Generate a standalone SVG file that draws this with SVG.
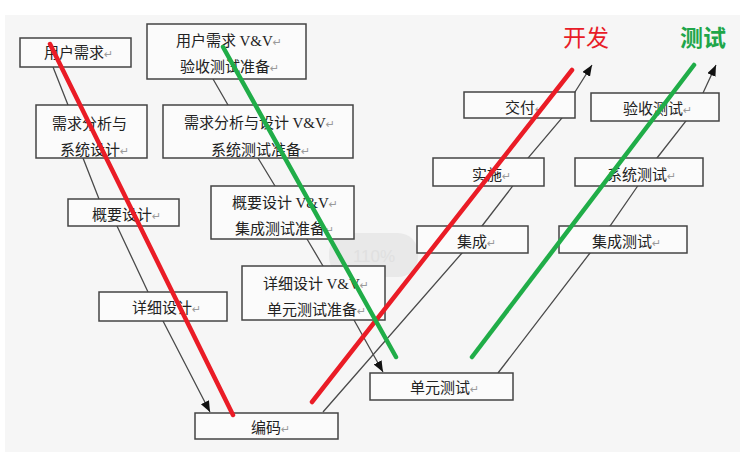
<svg xmlns="http://www.w3.org/2000/svg" width="740" height="457" viewBox="0 0 740 457">
<style>
.bg{fill:#f6f6f6}
.box{fill:#fbfbfb;stroke:#444;stroke-width:1.5}
.t{font-family:"Noto Sans CJK SC","Noto Sans CJK JP",sans-serif;font-size:15px;fill:#222}
.vv{font-family:"Liberation Serif",serif;font-size:15px}
.r{font-family:"DejaVu Sans",sans-serif;font-size:11px;fill:#9a9a9a}
.conn{fill:none;stroke:#4a4a4a;stroke-width:1.3}
.red{stroke:#ea1c26;stroke-width:4.5;stroke-linecap:round;fill:none}
.green{stroke:#20ad48;stroke-width:4.5;stroke-linecap:round;fill:none}
</style>
<defs>
<marker id="arr" markerUnits="userSpaceOnUse" markerWidth="12" markerHeight="10" refX="11" refY="4.5" orient="auto">
<path d="M0,0 L11,4.5 L0,9 z" fill="#111"/>
</marker>
</defs>
<rect x="0" y="0" width="740" height="457" fill="#ffffff"/>
<rect class="bg" x="5" y="15" width="735" height="437"/>
<rect x="329" y="233" width="89" height="44" rx="20" fill="#e9e9e9"/>
<text x="374" y="262" text-anchor="middle" font-family="Liberation Sans, sans-serif" font-size="17" fill="#e0e0e0">110%</text>

<g id="connectors">
<polyline class="conn" points="53,67 68,105 83,158 99,199 117,226 148,292 163,321 210,412" marker-end="url(#arr)"/>
<polyline class="conn" points="213,79 228,105 258,158 275,186 307,239 323,266 354,320 383,372" marker-end="url(#arr)"/>
<polyline class="conn" points="323,412 462,253 482,226 512,187 528,158 562,118 575,92 592,65" marker-end="url(#arr)"/>
<polyline class="conn" points="498,373 590,253 610,226 637,187 657,158 686,121 703,93 716,65" marker-end="url(#arr)"/>
</g>

<g id="n-yonghu">
<rect class="box" x="20" y="38" width="111" height="29"/>
<text class="t" x="44" y="58">用户需求<tspan class="r">↵</tspan></text>
</g>
<g id="n-xuqiu">
<rect class="box" x="36" y="105" width="111" height="53"/>
<text class="t" x="52" y="129">需求分析与</text>
<text class="t" x="60" y="155">系统设计<tspan class="r">↵</tspan></text>
</g>
<g id="n-gaiyao">
<rect class="box" x="68" y="199" width="111" height="27"/>
<text class="t" x="92" y="220">概要设计<tspan class="r">↵</tspan></text>
</g>
<g id="n-xiangxi">
<rect class="box" x="99" y="292" width="128" height="29"/>
<text class="t" x="132" y="313">详细设计<tspan class="r">↵</tspan></text>
</g>
<g id="n-bianma">
<rect class="box" x="195" y="413" width="143" height="26"/>
<text class="t" x="251" y="433">编码<tspan class="r">↵</tspan></text>
</g>

<g id="n-yonghu-vv">
<rect class="box" x="147" y="24" width="159" height="55"/>
<text class="t" x="176" y="46">用户需求 <tspan class="vv">V&amp;V</tspan><tspan class="r">↵</tspan></text>
<text class="t" x="180" y="72">验收测试准备<tspan class="r">↵</tspan></text>
</g>
<g id="n-xuqiu-vv">
<rect class="box" x="163" y="105" width="190" height="53"/>
<text class="t" x="184" y="128">需求分析与设计 <tspan class="vv">V&amp;V</tspan><tspan class="r">↵</tspan></text>
<text class="t" x="211" y="155">系统测试准备<tspan class="r">↵</tspan></text>
</g>
<g id="n-gaiyao-vv">
<rect class="box" x="211" y="186" width="143" height="53"/>
<text class="t" x="232" y="208">概要设计 <tspan class="vv">V&amp;V</tspan><tspan class="r">↵</tspan></text>
<text class="t" x="235" y="234">集成测试准备<tspan class="r">↵</tspan></text>
</g>
<g id="n-xiangxi-vv">
<rect class="box" x="242" y="266" width="143" height="54"/>
<text class="t" x="263" y="289">详细设计 <tspan class="vv">V&amp;V</tspan><tspan class="r">↵</tspan></text>
<text class="t" x="267" y="315">单元测试准备<tspan class="r">↵</tspan></text>
</g>
<g id="n-danyuan">
<rect class="box" x="370" y="373" width="143" height="27"/>
<text class="t" x="410" y="393">单元测试<tspan class="r">↵</tspan></text>
</g>

<g id="n-jiaofu">
<rect class="box" x="464" y="92" width="111" height="26"/>
<text class="t" x="505" y="113">交付<tspan class="r">↵</tspan></text>
</g>
<g id="n-shishi">
<rect class="box" x="433" y="158" width="111" height="28"/>
<text class="t" x="472" y="180">实施<tspan class="r">↵</tspan></text>
</g>
<g id="n-jicheng">
<rect class="box" x="417" y="226" width="111" height="27"/>
<text class="t" x="457" y="247">集成<tspan class="r">↵</tspan></text>
</g>
<g id="n-yanshou">
<rect class="box" x="591" y="93" width="128" height="28"/>
<text class="t" x="623" y="114">验收测试<tspan class="r">↵</tspan></text>
</g>
<g id="n-xitong">
<rect class="box" x="575" y="158" width="128" height="28"/>
<text class="t" x="607" y="180">系统测试<tspan class="r">↵</tspan></text>
</g>
<g id="n-jicheng-test">
<rect class="box" x="559" y="226" width="128" height="27"/>
<text class="t" x="592" y="247">集成测试<tspan class="r">↵</tspan></text>
</g>

<g id="annotations">
<line class="red" x1="50" y1="44" x2="233" y2="415"/>
<line class="red" x1="312" y1="402" x2="572" y2="70"/>
<line class="green" x1="223" y1="47" x2="396" y2="357"/>
<line class="green" x1="472" y1="357" x2="694" y2="65"/>
<text x="563" y="46" font-family="Noto Sans CJK SC, sans-serif" font-size="23" fill="#e81c28">开发</text>
<text x="680" y="46" font-family="Noto Sans CJK SC, sans-serif" font-size="23" font-weight="bold" fill="#1fa64a">测试</text>
</g>
</svg>
